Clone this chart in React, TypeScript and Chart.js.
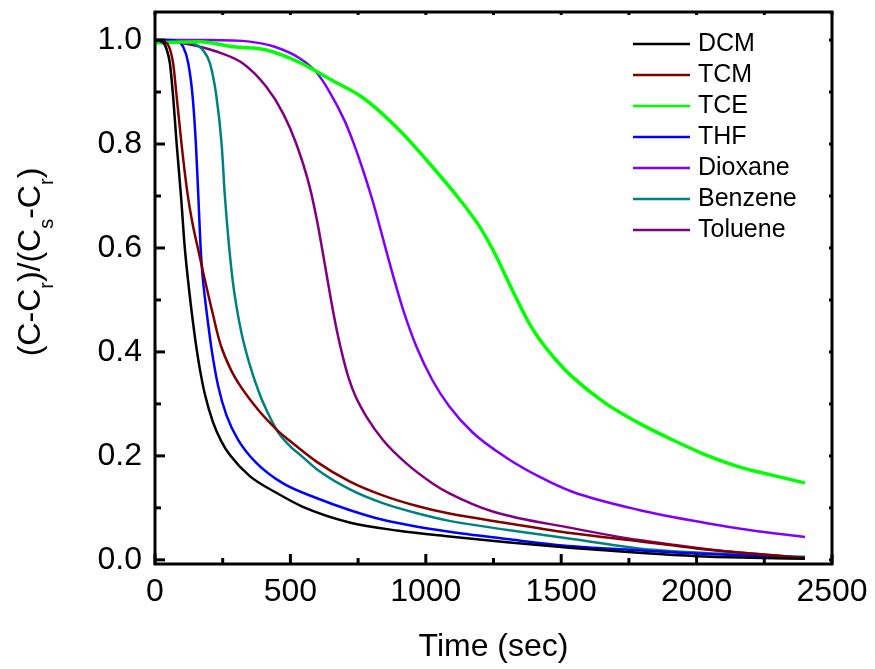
import React, { useEffect, useRef } from "react";
import { Chart, registerables } from "chart.js";

Chart.register(...registerables);

const FONT = 'Arial, "Liberation Sans", sans-serif';

// Axis ticks
const X_TICKS = [0, 500, 1000, 1500, 2000, 2500];
const X_MINOR = [250, 750, 1250, 1750, 2250];
const Y_TICKS = [0, 0.2, 0.4, 0.6, 0.8, 1.0];
const Y_MINOR = [0.1, 0.3, 0.5, 0.7, 0.9];

// Series (time in sec, normalized value)
const DCM_T = [0, 20, 37, 55, 67, 80, 96, 110, 128, 141, 153, 166, 184, 214, 245, 276, 350, 448, 546, 718, 900, 1087, 1300, 1541, 1800, 2000, 2200, 2400];
const DCM_V = [1.0, 0.998, 0.99, 0.955, 0.891, 0.8, 0.7, 0.6, 0.51, 0.454, 0.408, 0.366, 0.319, 0.265, 0.228, 0.202, 0.161, 0.129, 0.102, 0.072, 0.056, 0.045, 0.034, 0.023, 0.013, 0.007, 0.004, 0.002];

const TCM_T = [0, 25, 49, 67, 80, 98, 120, 139, 159, 180, 198, 215, 230, 246, 280, 313, 350, 387, 420, 454, 500, 596, 718, 841, 964, 1087, 1296, 1541, 1800, 2000, 2200, 2400];
const TCM_V = [1.0, 0.998, 0.99, 0.955, 0.891, 0.8, 0.705, 0.646, 0.598, 0.548, 0.507, 0.47, 0.437, 0.408, 0.366, 0.336, 0.309, 0.285, 0.266, 0.248, 0.228, 0.189, 0.151, 0.124, 0.104, 0.089, 0.071, 0.051, 0.035, 0.022, 0.012, 0.004];

const TCE_T = [0, 166, 289, 411, 534, 645, 768, 890, 1013, 1136, 1200, 1259, 1300, 1345, 1382, 1419, 1480, 1541, 1664, 1787, 1910, 2033, 2156, 2278, 2400];
const TCE_V = [0.995, 0.997, 0.987, 0.981, 0.957, 0.925, 0.889, 0.833, 0.763, 0.686, 0.64, 0.585, 0.54, 0.492, 0.455, 0.425, 0.385, 0.352, 0.301, 0.263, 0.231, 0.202, 0.179, 0.163, 0.148];

const THF_T = [0, 50, 80, 104, 123, 139, 151, 160, 168, 175, 183, 196, 209, 233, 264, 307, 375, 473, 596, 718, 841, 964, 1087, 1300, 1541, 1800, 2000, 2200, 2400];
const THF_V = [1.0, 1.0, 0.998, 0.987, 0.955, 0.891, 0.8, 0.7, 0.605, 0.55, 0.51, 0.455, 0.405, 0.335, 0.278, 0.231, 0.186, 0.147, 0.119, 0.096, 0.077, 0.064, 0.054, 0.04, 0.026, 0.018, 0.012, 0.008, 0.004];

const DIOX_T = [0, 200, 350, 436, 534, 596, 645, 700, 731, 768, 804, 829, 860, 890, 920, 964, 1025, 1087, 1173, 1296, 1419, 1541, 1787, 2033, 2200, 2400];
const DIOX_V = [1.0, 1.0, 0.997, 0.988, 0.965, 0.938, 0.9, 0.845, 0.805, 0.75, 0.69, 0.643, 0.583, 0.527, 0.475, 0.412, 0.345, 0.295, 0.245, 0.197, 0.16, 0.131, 0.096, 0.071, 0.057, 0.044];

const BENZ_T = [0, 80, 141, 178, 203, 227, 246, 258, 274, 287, 300, 320, 350, 387, 420, 454, 500, 534, 596, 718, 841, 964, 1087, 1296, 1541, 1787, 2000, 2200, 2400];
const BENZ_V = [1.0, 0.999, 0.994, 0.98, 0.955, 0.891, 0.8, 0.7, 0.6, 0.537, 0.49, 0.435, 0.375, 0.318, 0.279, 0.246, 0.218, 0.203, 0.175, 0.136, 0.109, 0.09, 0.075, 0.058, 0.04, 0.022, 0.014, 0.009, 0.006];

const TOL_T = [0, 104, 227, 325, 411, 473, 522, 571, 600, 625, 650, 672, 694, 715, 740, 780, 841, 927, 1025, 1087, 1247, 1541, 1787, 2033, 2200, 2400];
const TOL_V = [1.0, 0.994, 0.978, 0.955, 0.91, 0.859, 0.8, 0.718, 0.648, 0.575, 0.5, 0.44, 0.39, 0.35, 0.315, 0.276, 0.231, 0.186, 0.147, 0.128, 0.093, 0.061, 0.038, 0.021, 0.012, 0.004];

const SERIES = [
  { label: "DCM", t: DCM_T, v: DCM_V, color: "#000000", width: 2.5 },
  { label: "TCM", t: TCM_T, v: TCM_V, color: "#800000", width: 2.5 },
  { label: "TCE", t: TCE_T, v: TCE_V, color: "#00ff00", width: 3.5 },
  { label: "THF", t: THF_T, v: THF_V, color: "#0000ff", width: 2.5 },
  { label: "Dioxane", t: DIOX_T, v: DIOX_V, color: "#8000ff", width: 2.5 },
  { label: "Benzene", t: BENZ_T, v: BENZ_V, color: "#008080", width: 2.5 },
  { label: "Toluene", t: TOL_T, v: TOL_V, color: "#800080", width: 2.5 },
];

const framePlugin = {
  id: "frameTicksLegend",
  afterDatasetsDraw(chart: any) {
    const { ctx, chartArea: a, scales } = chart;
    const xs = scales.x;
    const ys = scales.y;
    ctx.save();
    ctx.strokeStyle = "#000";
    ctx.lineWidth = 3;
    ctx.lineCap = "butt";
    const seg = (x1: number, y1: number, x2: number, y2: number) => {
      ctx.beginPath();
      ctx.moveTo(x1, y1);
      ctx.lineTo(x2, y2);
      ctx.stroke();
    };
    ctx.strokeRect(a.left, a.top, a.right - a.left, a.bottom - a.top);
    X_TICKS.forEach((v) => {
      const p = xs.getPixelForValue(v);
      seg(p, a.bottom, p, a.bottom - 10);
      seg(p, a.top, p, a.top + 3);
    });
    X_MINOR.forEach((v) => {
      const p = xs.getPixelForValue(v);
      seg(p, a.bottom, p, a.bottom - 6);
      seg(p, a.top, p, a.top + 3);
    });
    Y_TICKS.forEach((v) => {
      const p = ys.getPixelForValue(v);
      seg(a.left, p, a.left + 10, p);
      seg(a.right, p, a.right - 3, p);
    });
    Y_MINOR.forEach((v) => {
      const p = ys.getPixelForValue(v);
      seg(a.left, p, a.left + 6, p);
      seg(a.right, p, a.right - 3, p);
    });

    // Legend
    const lx = a.right - 199;
    const ly = a.top + 32;
    ctx.font = `25px ${FONT}`;
    ctx.textBaseline = "middle";
    ctx.textAlign = "left";
    chart.data.datasets.forEach((ds: any, i: number) => {
      const yy = ly + i * 31;
      ctx.strokeStyle = ds.borderColor;
      ctx.lineWidth = 2.5;
      seg(lx, yy, lx + 57, yy);
      ctx.fillStyle = "#000";
      ctx.fillText(ds.label, lx + 65, yy);
    });

    // Y axis title with subscripts
    const parts = [
      { t: "(C-C", sub: false },
      { t: "r", sub: true },
      { t: ")/(C", sub: false },
      { t: "s", sub: true },
      { t: "-C", sub: false },
      { t: "r", sub: true },
      { t: ")", sub: false },
    ];
    const mainFont = `32px ${FONT}`;
    const subFont = `20px ${FONT}`;
    let total = 0;
    parts.forEach((p) => {
      ctx.font = p.sub ? subFont : mainFont;
      total += ctx.measureText(p.t).width;
    });
    ctx.translate(39.5, 262);
    ctx.rotate(-Math.PI / 2);
    ctx.textBaseline = "alphabetic";
    ctx.fillStyle = "#000";
    let cx = -total / 2;
    parts.forEach((p) => {
      ctx.font = p.sub ? subFont : mainFont;
      ctx.fillText(p.t, cx, p.sub ? 13 : 0);
      cx += ctx.measureText(p.t).width;
    });
    ctx.restore();
  },
};

export default function App() {
  const ref = useRef<HTMLCanvasElement | null>(null);
  useEffect(() => {
    if (!ref.current) return;
    const chart = new Chart(ref.current, {
      type: "line",
      data: {
        datasets: SERIES.map((s) => ({
          label: s.label,
          data: s.t.map((t, i) => ({ x: t, y: s.v[i] })),
          borderColor: s.color,
          backgroundColor: s.color,
          borderWidth: s.width,
          pointRadius: 0,
          fill: false,
          cubicInterpolationMode: "monotone" as const,
        })),
      },
      options: {
        responsive: false,
        animation: false,
        devicePixelRatio: 1,
        layout: { padding: { left: 0, right: 43, top: 12, bottom: 0 } },
        plugins: { legend: { display: false }, tooltip: { enabled: false } },
        scales: {
          x: {
            type: "linear",
            min: 0,
            max: 2500,
            grid: { display: false, drawTicks: false },
            border: { display: false },
            afterBuildTicks: (s: any) => {
              s.ticks = X_TICKS.map((v) => ({ value: v }));
            },
            afterFit: (s: any) => {
              s.height = 105;
              s.paddingLeft = 0;
              s.paddingRight = 0;
            },
            ticks: {
              padding: 9,
              color: "#000",
              maxRotation: 0,
              autoSkip: false,
              font: { family: FONT, size: 32 },
              callback: (v: any) => String(v),
            },
            title: {
              display: true,
              text: "Time (sec)",
              color: "#000",
              font: { family: FONT, size: 32 },
              padding: { top: 0, bottom: 3 },
            },
          },
          y: {
            type: "linear",
            min: -0.008,
            max: 1.054,
            grid: { display: false, drawTicks: false },
            border: { display: false },
            afterBuildTicks: (s: any) => {
              s.ticks = Y_TICKS.map((v) => ({ value: v }));
            },
            afterFit: (s: any) => {
              s.width = 155;
              s.paddingTop = 0;
              s.paddingBottom = 0;
            },
            ticks: {
              padding: 13,
              color: "#000",
              autoSkip: false,
              font: { family: FONT, size: 32 },
              callback: (v: any) => Number(v).toFixed(1),
            },
          },
        },
      },
      plugins: [framePlugin],
    });
    return () => chart.destroy();
  }, []);
  return (
    <div style={{ position: "fixed", left: 0, top: 0, width: 875, height: 669, background: "#fff" }}>
      <canvas ref={ref} width={875} height={669} style={{ display: "block", width: 875, height: 669 }} />
    </div>
  );
}
